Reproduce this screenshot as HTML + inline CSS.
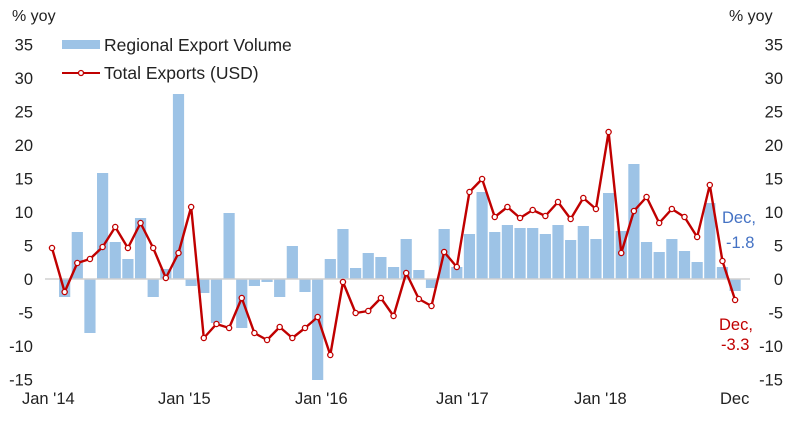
<!DOCTYPE html>
<html><head><meta charset="utf-8"><style>
html,body{margin:0;padding:0;background:#fff;}
svg{display:block;font-family:"Liberation Sans",Arial,sans-serif;}
</style></head><body>
<svg id="c" width="800" height="424" viewBox="0 0 800 424" xmlns="http://www.w3.org/2000/svg">
<rect width="800" height="424" fill="#fff"/>
<g id="bars" fill="#9dc3e6"></g>
<line x1="45" y1="279" x2="750" y2="279" stroke="#d0d0d0" stroke-width="1.5"/>
<g id="line"></g>
<g font-size="16" fill="#222">
<text x="12" y="21">% yoy</text>
<text x="729" y="21">% yoy</text>
</g>
<g id="ax" font-size="16.5" fill="#222"></g>
<g font-size="17.5" fill="#222">
<rect x="62" y="40" width="38" height="9" fill="#9dc3e6"/>
<text x="104" y="51">Regional Export Volume</text>
<line x1="62" y1="73" x2="100" y2="73" stroke="#c00000" stroke-width="2"/>
<circle cx="81" cy="73" r="2.5" fill="#fff" stroke="#c00000" stroke-width="1.3"/>
<text x="104" y="79">Total Exports (USD)</text>
</g>
<g font-size="16.5" fill="#222">
<text x="22" y="404">Jan '14</text>
<text x="158" y="404">Jan '15</text>
<text x="295" y="404">Jan '16</text>
<text x="436" y="404">Jan '17</text>
<text x="574" y="404">Jan '18</text>
<text x="720" y="404">Dec</text>
<text x="722" y="223" fill="#4472c4">Dec,</text>
<text x="726" y="248" fill="#4472c4">-1.8</text>
<text x="719" y="330" fill="#c00000">Dec,</text>
<text x="721" y="350" fill="#c00000">-3.3</text>
</g>
</svg>
<script>
var ns="http://www.w3.org/2000/svg";
var bars=[279,297,232,333,173,242,259,218,297,269,94,286,293,323,213,328,286,282,297,246,292,380,259,229,268,253,257,267,239,270,288,229,267,234,192,232,225,228,228,234,225,240,226,239,193,231,164,242,252,239,251,262,203,267,291];
var line=[248,292,263,259,247,227,248,223,248,278,253,207,338,324,328,298,333,340,327,338,328,317,355,282,313,311,298,316,273,299,306,252,267,192,179,217,207,218,210,216,202,219,198,209,132,253,211,197,223,209,217,237,185,261,300];
var bg=document.getElementById('bars'),lg=document.getElementById('line'),ax=document.getElementById('ax');
function X(i){return 52+i*12.65;}
for(var i=0;i<bars.length;i++){var y=bars[i];if(Math.abs(y-279)<1)continue;var r=document.createElementNS(ns,'rect');r.setAttribute('x',X(i)-5.6);r.setAttribute('width',11.2);r.setAttribute('y',Math.min(y,279));r.setAttribute('height',Math.abs(y-279));bg.appendChild(r);}
var pts=line.map(function(y,i){return X(i)+','+y;}).join(' ');
var pl=document.createElementNS(ns,'polyline');pl.setAttribute('points',pts);pl.setAttribute('fill','none');pl.setAttribute('stroke','#c00000');pl.setAttribute('stroke-width','2.4');pl.setAttribute('stroke-linejoin','round');lg.appendChild(pl);
line.forEach(function(y,i){var c=document.createElementNS(ns,'circle');c.setAttribute('cx',X(i));c.setAttribute('cy',y);c.setAttribute('r',2.6);c.setAttribute('fill','#fff');c.setAttribute('stroke','#c00000');c.setAttribute('stroke-width','1.3');lg.appendChild(c);});
for(var v=35;v>=-15;v-=5){var y=279-v*6.7+6;var t=document.createElementNS(ns,'text');t.setAttribute('x',33);t.setAttribute('y',y);t.setAttribute('text-anchor','end');t.textContent=v;ax.appendChild(t);
var t2=document.createElementNS(ns,'text');t2.setAttribute('x',783);t2.setAttribute('y',y);t2.setAttribute('text-anchor','end');t2.textContent=v;ax.appendChild(t2);}
</script>
</body></html>
